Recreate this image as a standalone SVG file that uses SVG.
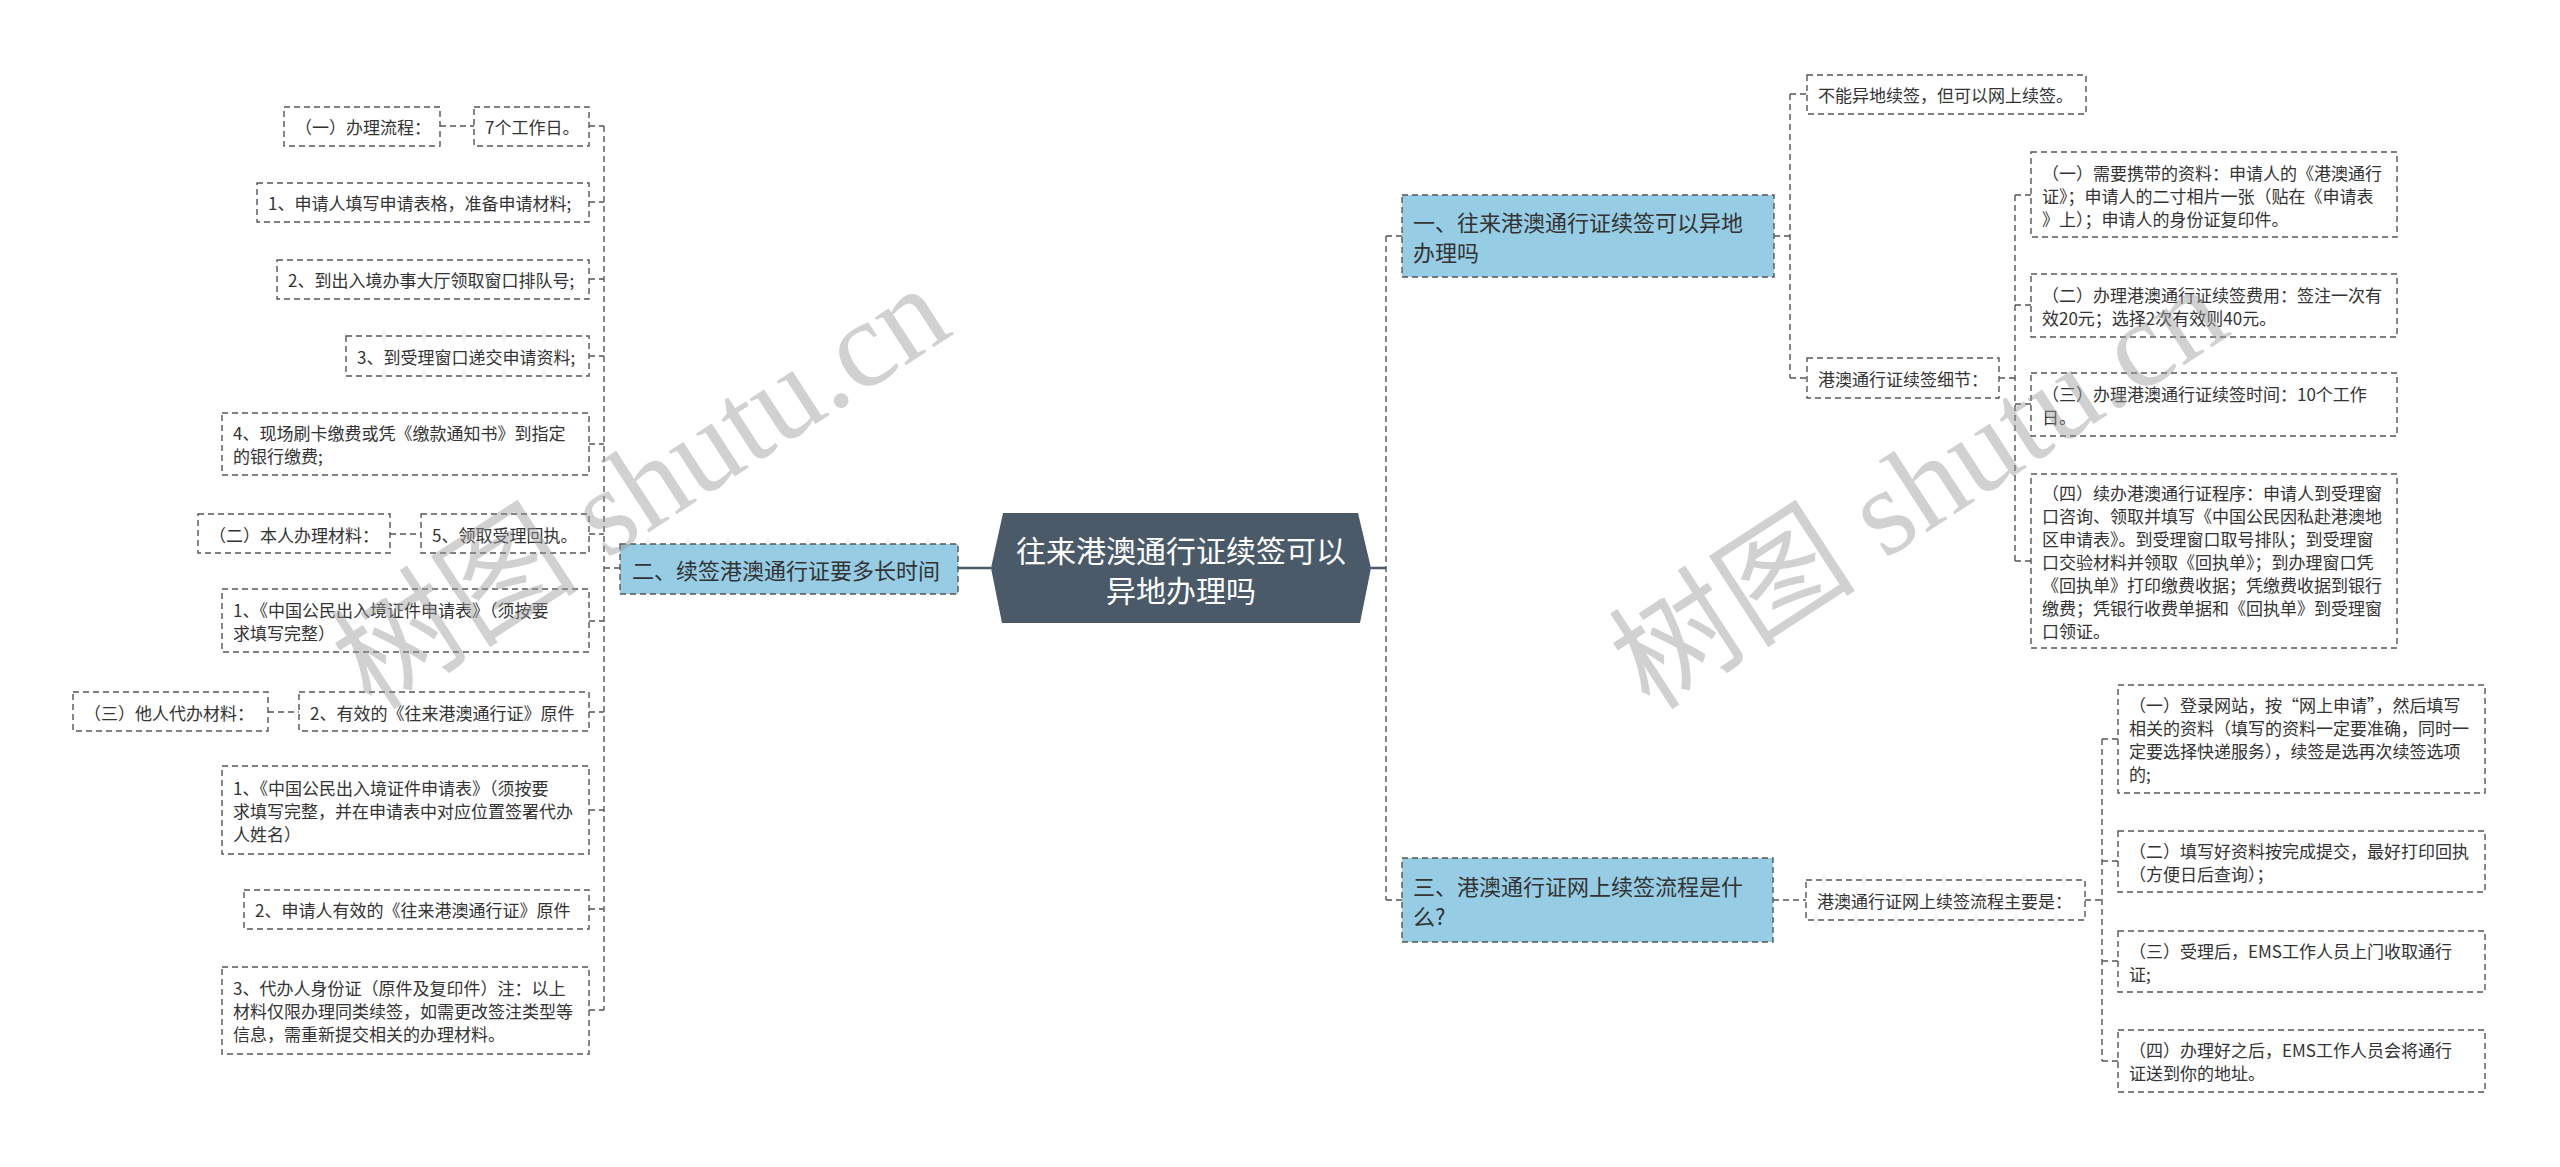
<svg xmlns="http://www.w3.org/2000/svg" width="2560" height="1167" viewBox="0 0 2560 1167">
<style>
.box{fill:#ffffff;stroke:#555555;stroke-width:1.4;stroke-dasharray:6 4}
.l1{fill:#96CCE4;stroke:#555555;stroke-width:1.4;stroke-dasharray:6 4}
.t{font-family:'Noto Sans CJK SC','Microsoft YaHei',sans-serif;font-size:17px;fill:#333333;dominant-baseline:central}
.t1{font-family:'Noto Sans CJK SC','Microsoft YaHei',sans-serif;font-size:22px;fill:#333333;dominant-baseline:central}
.tc{font-family:'Noto Sans CJK SC','Microsoft YaHei',sans-serif;font-size:30px;fill:#ffffff;dominant-baseline:central;text-anchor:middle}
.c{stroke:#555555;stroke-width:1.4;stroke-dasharray:6 4;fill:none}
.cs{stroke:#4B5A69;stroke-width:2.5;fill:none}
.wm{font-family:'Liberation Serif','Noto Sans CJK SC',serif;font-size:124px;fill:#9a9a9a;opacity:0.45}
</style>
<rect width="2560" height="1167" fill="#ffffff"/>
<g id="connectors">
<path class="cs" d="M958 568H991M1371 568H1386"/>
<path class="c" d="M604 126V1010M589 126H604M589 202H604M589 279H604M589 356H604M589 444H604M589 534H604M589 621H604M589 712H604M589 810H604M589 909H604M589 1010H604M604 568H620"/>
<path class="c" d="M440 126H474M390 534H421M268 712H299"/>
<path class="c" d="M1386 236V900M1386 236H1402M1386 900H1402"/>
<path class="c" d="M1774 236H1790M1790 94V378M1790 94H1807M1790 378H1807"/>
<path class="c" d="M1999 378H2015M2015 195V561M2015 195H2031M2015 305H2031M2015 404H2031M2015 561H2031"/>
<path class="c" d="M1773 900H1806M2085 900H2102M2102 739V1061M2102 739H2118M2102 861H2118M2102 961H2118M2102 1061H2118"/>
</g>
<g id="center">
<polygon points="991,568 1003,513 1358,513 1371,568 1360,623 1002,623" fill="#4B5A69"/>
<text class="tc" x="1181" y="549">往来港澳通行证续签可以</text>
<text class="tc" x="1181" y="589">异地办理吗</text>
</g>
<g id="n-left1">
<rect class="l1" x="620" y="544" width="338" height="50"/>
<text class="t1" x="632" y="569">二、续签港澳通行证要多长时间</text>
</g>
<g id="n-l1a"><rect class="box" x="284" y="107" width="156" height="39"/><text class="t" x="295" y="126">（一）办理流程：</text></g>
<g id="n-l1b"><rect class="box" x="474" y="107" width="115" height="39"/><text class="t" x="485" y="126">7个工作日。</text></g>
<g id="n-l2"><rect class="box" x="257" y="183" width="332" height="39"/><text class="t" x="268" y="202">1、申请人填写申请表格，准备申请材料;</text></g>
<g id="n-l3"><rect class="box" x="277" y="260" width="312" height="39"/><text class="t" x="288" y="279">2、到出入境办事大厅领取窗口排队号;</text></g>
<g id="n-l4"><rect class="box" x="346" y="336" width="243" height="40"/><text class="t" x="357" y="356">3、到受理窗口递交申请资料;</text></g>
<g id="n-l5"><rect class="box" x="222" y="413" width="367" height="62"/><text class="t" x="233" y="432.5">4、现场刷卡缴费或凭《缴款通知书》到指定</text><text class="t" x="233" y="455.5">的银行缴费;</text></g>
<g id="n-l6a"><rect class="box" x="198" y="514" width="192" height="39"/><text class="t" x="209" y="534">（二）本人办理材料：</text></g>
<g id="n-l6b"><rect class="box" x="421" y="514" width="168" height="39"/><text class="t" x="432" y="534">5、领取受理回执。</text></g>
<g id="n-l7"><rect class="box" x="222" y="589" width="367" height="63"/><text class="t" x="233" y="609.5">1、《中国公民出入境证件申请表》（须按要</text><text class="t" x="233" y="632.5">求填写完整）</text></g>
<g id="n-l8a"><rect class="box" x="73" y="692" width="195" height="39"/><text class="t" x="84" y="712">（三）他人代办材料：</text></g>
<g id="n-l8b"><rect class="box" x="299" y="692" width="290" height="39"/><text class="t" x="310" y="712">2、有效的《往来港澳通行证》原件</text></g>
<g id="n-l9"><rect class="box" x="222" y="766" width="367" height="88"/><text class="t" x="233" y="787">1、《中国公民出入境证件申请表》（须按要</text><text class="t" x="233" y="810">求填写完整，并在申请表中对应位置签署代办</text><text class="t" x="233" y="833">人姓名）</text></g>
<g id="n-l10"><rect class="box" x="244" y="890" width="345" height="39"/><text class="t" x="255" y="909">2、申请人有效的《往来港澳通行证》原件</text></g>
<g id="n-l11"><rect class="box" x="222" y="967" width="367" height="87"/><text class="t" x="233" y="987.5">3、代办人身份证（原件及复印件）注：以上</text><text class="t" x="233" y="1010.5">材料仅限办理同类续签，如需更改签注类型等</text><text class="t" x="233" y="1033.5">信息，需重新提交相关的办理材料。</text></g>
<g id="n-rA">
<rect class="l1" x="1402" y="195" width="372" height="82"/>
<text class="t1" x="1413" y="221">一、往来港澳通行证续签可以异地</text>
<text class="t1" x="1413" y="251">办理吗</text>
</g>
<g id="n-rA1"><rect class="box" x="1807" y="75" width="279" height="39"/><text class="t" x="1818" y="94.5">不能异地续签，但可以网上续签。</text></g>
<g id="n-rA2"><rect class="box" x="1807" y="358" width="192" height="40"/><text class="t" x="1818" y="378">港澳通行证续签细节：</text></g>
<g id="n-rB1"><rect class="box" x="2031" y="152" width="366" height="85"/><text class="t" x="2042" y="172">（一）需要携带的资料：申请人的《港澳通行</text><text class="t" x="2042" y="195">证》；申请人的二寸相片一张（贴在《申请表</text><text class="t" x="2042" y="218">》上）；申请人的身份证复印件。</text></g>
<g id="n-rB2"><rect class="box" x="2031" y="274" width="366" height="63"/><text class="t" x="2042" y="294">（二）办理港澳通行证续签费用：签注一次有</text><text class="t" x="2042" y="317">效20元；选择2次有效则40元。</text></g>
<g id="n-rB3"><rect class="box" x="2031" y="373" width="366" height="63"/><text class="t" x="2042" y="393">（三）办理港澳通行证续签时间：10个工作</text><text class="t" x="2042" y="416">日。</text></g>
<g id="n-rB4"><rect class="box" x="2031" y="474" width="366" height="174"/><text class="t" x="2042" y="492">（四）续办港澳通行证程序：申请人到受理窗</text><text class="t" x="2042" y="515">口咨询、领取并填写《中国公民因私赴港澳地</text><text class="t" x="2042" y="538">区申请表》。到受理窗口取号排队；到受理窗</text><text class="t" x="2042" y="561">口交验材料并领取《回执单》；到办理窗口凭</text><text class="t" x="2042" y="584">《回执单》打印缴费收据；凭缴费收据到银行</text><text class="t" x="2042" y="607">缴费；凭银行收费单据和《回执单》到受理窗</text><text class="t" x="2042" y="630">口领证。</text></g>
<g id="n-rC">
<rect class="l1" x="1402" y="858" width="371" height="84"/>
<text class="t1" x="1413" y="885">三、港澳通行证网上续签流程是什</text>
<text class="t1" x="1413" y="915">么?</text>
</g>
<g id="n-rC1"><rect class="box" x="1806" y="880" width="279" height="40"/><text class="t" x="1817" y="900">港澳通行证网上续签流程主要是：</text></g>
<g id="n-rD1"><rect class="box" x="2118" y="685" width="367" height="108"/><text class="t" x="2129" y="704.5">（一）登录网站，按“网上申请”，然后填写</text><text class="t" x="2129" y="727.5">相关的资料（填写的资料一定要准确，同时一</text><text class="t" x="2129" y="750.5">定要选择快递服务），续签是选再次续签选项</text><text class="t" x="2129" y="773.5">的;</text></g>
<g id="n-rD2"><rect class="box" x="2118" y="831" width="367" height="61"/><text class="t" x="2129" y="850">（二）填写好资料按完成提交，最好打印回执</text><text class="t" x="2129" y="873">（方便日后查询）；</text></g>
<g id="n-rD3"><rect class="box" x="2118" y="931" width="367" height="61"/><text class="t" x="2129" y="950">（三）受理后，EMS工作人员上门收取通行</text><text class="t" x="2129" y="973">证;</text></g>
<g id="n-rD4"><rect class="box" x="2118" y="1030" width="367" height="62"/><text class="t" x="2129" y="1049.5">（四）办理好之后，EMS工作人员会将通行</text><text class="t" x="2129" y="1072.5">证送到你的地址。</text></g>
<g id="watermark">
<text class="wm" transform="translate(372,712) rotate(-33)">树图 shutu.cn</text>
<text class="wm" transform="translate(1650,712) rotate(-33)">树图 shutu.cn</text>
</g>
</svg>
